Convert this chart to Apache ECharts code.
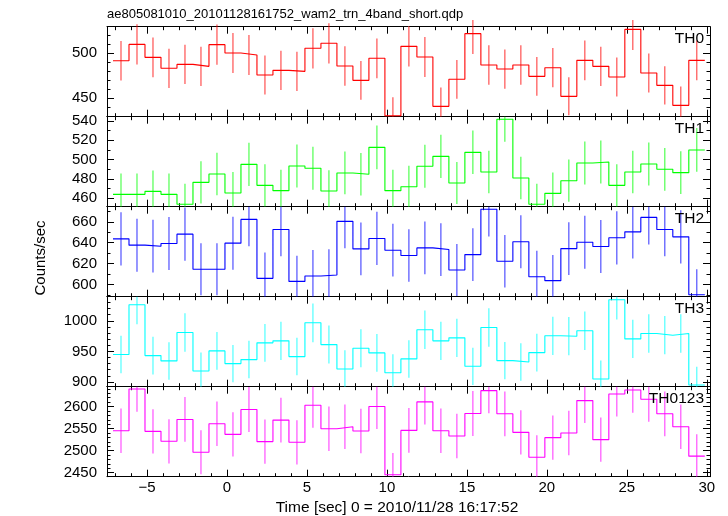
<!DOCTYPE html>
<html>
<head>
<meta charset="utf-8">
<script src="https://cdn.jsdelivr.net/npm/echarts@6/dist/echarts.min.js"></script>
<style>html,body{margin:0;padding:0;background:#fff}#c{width:728px;height:516px}</style>
</head>
<body>
<div id="c"></div>
<script>
// ---- data (bin centres in seconds, 1 s bins) ----
const times = [-6.625,-5.625,-4.625,-3.625,-2.625,-1.625,-0.625,0.375,1.375,2.375,3.375,4.375,5.375,6.375,7.375,8.375,9.375,10.375,11.375,12.375,13.375,14.375,15.375,16.375,17.375,18.375,19.375,20.375,21.375,22.375,23.375,24.375,25.375,26.375,27.375,28.375,29.375];

const th0 = [491.7,510.0,495.5,483.2,487.6,485.4,509.7,500.3,498.1,475.7,480.9,479.8,505.6,511.2,485.8,469.7,494.4,430.0,507.8,495.9,440.6,470.9,522.0,486.9,482.4,486.9,474.2,483.9,451.8,492.1,485.4,473.5,526.8,477.9,464.1,441.7,492.1];
const th0Err = [22.2,22.6,22.3,22.0,22.1,22.0,22.6,22.4,22.3,21.8,21.9,21.9,22.5,22.6,22.0,21.7,22.2,20.7,22.5,22.3,21.0,21.7,22.8,22.1,22.0,22.1,21.8,22.0,21.3,22.2,22.0,21.8,23.0,21.9,21.5,21.0,22.2];

const th1 = [464.1,464.1,467.2,464.1,453.8,476.5,485.1,465.5,495.1,473.4,467.9,493.4,491.0,467.5,486.2,484.8,512.7,467.9,472.0,493.1,503.4,475.8,507.5,487.2,541.7,481.0,453.8,465.1,478.2,496.5,497.5,473.4,487.2,495.5,490.0,486.5,510.0];
const th1Err = [21.5,21.5,21.6,21.5,21.3,21.8,22.0,21.6,22.3,21.8,21.6,22.2,22.2,21.6,22.1,22.0,22.6,21.6,21.7,22.2,22.4,21.8,22.5,22.1,23.3,21.9,21.3,21.6,21.9,22.3,22.3,21.8,22.1,22.3,22.1,22.1,22.6];

const th2 = [643.7,637.7,636.7,639.3,648.2,614.7,614.7,639.6,662.3,606.0,652.7,603.1,608.3,609.2,660.4,634.1,644.1,632.9,627.8,635.1,633.5,614.0,628.7,671.9,622.3,640.9,607.6,603.8,634.4,640.5,636.4,644.7,650.4,664.2,652.7,645.6,590.4];
const th2Err = [25.4,25.3,25.2,25.3,25.5,24.8,24.8,25.3,25.7,24.6,25.6,24.6,24.7,24.7,25.7,25.2,25.4,25.2,25.1,25.2,25.2,24.8,25.1,25.9,25.0,25.3,24.7,24.6,25.2,25.3,25.2,25.4,25.5,25.8,25.6,25.4,24.3];

const th3 = [944.8,1026.2,943.1,934.4,980.8,918.0,950.8,930.0,936.6,963.9,967.2,941.5,996.7,961.1,921.3,955.1,947.5,915.2,937.7,985.2,967.2,972.1,925.6,989.0,934.9,932.7,948.0,975.4,974.8,983.6,904.9,1034.4,970.4,979.2,976.4,979.2,895.0];
const th3Err = [30.7,32.0,30.7,30.6,31.3,30.3,30.8,30.5,30.6,31.0,31.1,30.7,31.6,31.0,30.4,30.9,30.8,30.3,30.6,31.4,31.1,31.2,30.4,31.4,30.6,30.5,30.8,31.2,31.2,31.4,30.1,32.2,31.2,31.3,31.2,31.3,29.9];

const th0123 = [2545.2,2639.8,2543.7,2521.2,2570.7,2496.4,2561.0,2536.9,2593.2,2520.4,2569.2,2518.9,2603.0,2549.7,2554.2,2544.4,2600.0,2445.3,2545.9,2610.5,2545.2,2533.2,2584.2,2636.0,2583.5,2541.4,2485.1,2529.4,2539.9,2613.5,2524.9,2628.5,2637.5,2616.5,2583.5,2554.2,2487.4];
const th0123Err = [50.4,51.4,50.4,50.2,50.7,50.0,50.6,50.4,50.9,50.2,50.7,50.2,51.0,50.5,50.5,50.4,51.0,49.4,50.5,51.1,50.4,50.3,50.8,51.3,50.8,50.4,49.9,50.3,50.4,51.1,50.2,51.3,51.4,51.1,50.8,50.5,49.9];

const panelNames = ['TH0','TH1','TH2','TH3','TH0123'];
const panelValues = [th0, th1, th2, th3, th0123];
const panelErrors = [th0Err, th1Err, th2Err, th3Err, th0123Err];
const panelColors = ['#ff0000','#00ff00','#0000ff','#00ffff','#ff00ff'];

// axis ranges and tick labels
const xRange = [-7.5, 30.2];
const xMajorTicks = [-5,0,5,10,15,20,25,30];
const yRanges = [[429.0,529.8],[451.3,544.4],[588.5,674.4],[892.3,1039.3],[2440.8,2645.0]];
const yMajorTicks = [[450,500],[460,480,500,520,540],[600,620,640,660],[900,950,1000],[2450,2500,2550,2600]];
const yMinorStep = 10;

const titleText = 'ae805081010_20101128161752_wam2_trn_4band_short.qdp';
const xTitle = 'Time [sec] 0 = 2010/11/28 16:17:52';
const yTitle = 'Counts/sec';

// ---- layout ----
const FONT = "'Liberation Sans', Arial, Helvetica, sans-serif";
const gridLeft = 107, gridTop = 26.7, panelH = 90, plotW = 603;
const binWidth = 1;

function range(a, b, s) { const r = []; for (let v = Math.ceil(a / s) * s; v <= b + 1e-9; v += s) r.push(Math.round(v * 1000) / 1000); return r; }
const xMinorTicks = range(xRange[0], xRange[1], 1).filter(v => xMajorTicks.indexOf(v) < 0);

const grids = [], xAxes = [], yAxes = [], series = [], graphics = [];
const axisColor = '#000';

for (let i = 0; i < 5; i++) {
  const top = gridTop + panelH * i;
  grids.push({ left: gridLeft, top: top, width: plotW, height: panelH, containLabel: false });
  const yMinor = range(yRanges[i][0], yRanges[i][1], yMinorStep).filter(v => yMajorTicks[i].indexOf(v) < 0);
  const base = { type: 'value', gridIndex: i, min: xRange[0], max: xRange[1], splitLine: { show: false } };
  xAxes.push(Object.assign({}, base, {
    position: 'bottom',
    axisLine: { show: true, onZero: false, lineStyle: { color: axisColor, width: 1 } },
    axisTick: { show: true, inside: true, length: 7, customValues: xMajorTicks, lineStyle: { color: axisColor } },
    axisLabel: { show: i === 4, customValues: xMajorTicks, margin: 4, fontSize: 15, color: '#000', fontFamily: FONT,
      formatter: v => String(v).replace('-', '\u2212') }
  }));
  xAxes.push(Object.assign({}, base, {
    position: 'bottom',
    axisLine: { show: false, onZero: false },
    axisTick: { show: true, inside: true, length: 3.5, customValues: xMinorTicks, lineStyle: { color: axisColor } },
    axisLabel: { show: false }
  }));
  xAxes.push(Object.assign({}, base, {
    position: 'top',
    axisLine: { show: true, onZero: false, lineStyle: { color: axisColor, width: 1 } },
    axisTick: { show: true, inside: true, length: 7, customValues: xMajorTicks, lineStyle: { color: axisColor } },
    axisLabel: { show: false }
  }));
  xAxes.push(Object.assign({}, base, {
    position: 'top',
    axisLine: { show: false, onZero: false },
    axisTick: { show: true, inside: true, length: 3.5, customValues: xMinorTicks, lineStyle: { color: axisColor } },
    axisLabel: { show: false }
  }));
  const ybase = { type: 'value', gridIndex: i, min: yRanges[i][0], max: yRanges[i][1], splitLine: { show: false } };
  yAxes.push(Object.assign({}, ybase, {
    position: 'left',
    axisLine: { show: true, onZero: false, lineStyle: { color: axisColor, width: 1 } },
    axisTick: { show: true, inside: true, length: 7, customValues: yMajorTicks[i], lineStyle: { color: axisColor } },
    axisLabel: { show: true, customValues: yMajorTicks[i], margin: 10, fontSize: 15, color: '#000', fontFamily: FONT,
      formatter: v => String(v) }
  }));
  yAxes.push(Object.assign({}, ybase, {
    position: 'left',
    axisLine: { show: false, onZero: false },
    axisTick: { show: true, inside: true, length: 3.5, customValues: yMinor, lineStyle: { color: axisColor } },
    axisLabel: { show: false }
  }));
  yAxes.push(Object.assign({}, ybase, {
    position: 'right',
    axisLine: { show: true, onZero: false, lineStyle: { color: axisColor, width: 1 } },
    axisTick: { show: true, inside: true, length: 7, customValues: yMajorTicks[i], lineStyle: { color: axisColor } },
    axisLabel: { show: false }
  }));
  yAxes.push(Object.assign({}, ybase, {
    position: 'right',
    axisLine: { show: false, onZero: false },
    axisTick: { show: true, inside: true, length: 3.5, customValues: yMinor, lineStyle: { color: axisColor } },
    axisLabel: { show: false }
  }));

  const vals = panelValues[i], errs = panelErrors[i], color = panelColors[i];
  // histogram step line: points at the left edge of every bin plus the right edge of the last one
  const stepData = times.map((t, k) => [t - binWidth / 2, vals[k]]);
  stepData.push([times[times.length - 1] + binWidth / 2, vals[vals.length - 1]]);
  series.push({
    type: 'line', name: panelNames[i], xAxisIndex: 4 * i, yAxisIndex: 4 * i,
    step: 'end', data: stepData, showSymbol: false, symbol: 'none', silent: true, clip: true,
    lineStyle: { color: color, width: 1.1 }, z: 3, animation: false
  });
  const panelIndex = i;
  series.push({
    type: 'custom', name: panelNames[i] + ' err', xAxisIndex: 4 * i, yAxisIndex: 4 * i,
    data: times.map((t, k) => [t, vals[k], errs[k]]), silent: true, clip: false, animation: false, z: 2,
    renderItem: function (params, api) {
      const cs = params.coordSys;
      const x = api.value(0), v = api.value(1), e = api.value(2);
      const a = api.coord([x, v - e]), b = api.coord([x, v + e]);
      const topLim = panelIndex === 0 ? 20 : cs.y;
      const botLim = cs.y + cs.height;
      const clampY = y => Math.max(topLim, Math.min(botLim, y));
      return { type: 'line', shape: { x1: a[0], y1: clampY(a[1]), x2: b[0], y2: clampY(b[1]) },
        style: { stroke: color, lineWidth: 1.1, opacity: 0.75 } };
    }
  });
  graphics.push({ type: 'text', right: 728 - 704, top: top + 4,
    style: { text: panelNames[i], fontSize: 15.5, fill: '#000', fontFamily: FONT, textAlign: 'right' }, z: 10 });
}

graphics.push({ type: 'text', left: gridLeft, top: 7.5, style: { text: titleText, fontSize: 13, fill: '#000', fontFamily: FONT } });
graphics.push({ type: 'text', x: 397, y: 508, style: { text: xTitle, fontSize: 15.5, fill: '#000', fontFamily: FONT, textAlign: 'center', textVerticalAlign: 'middle' } });
graphics.push({ type: 'text', x: 41, y: 258, rotation: Math.PI / 2,
  style: { text: yTitle, fontSize: 15, fill: '#000', fontFamily: FONT, textAlign: 'center', textVerticalAlign: 'middle' } });

const chart = echarts.init(document.getElementById('c'), null, { renderer: 'canvas' });
chart.setOption({
  animation: false,
  backgroundColor: '#fff',
  grid: grids,
  xAxis: xAxes,
  yAxis: yAxes,
  series: series,
  graphic: graphics
});
</script>
</body>
</html>
